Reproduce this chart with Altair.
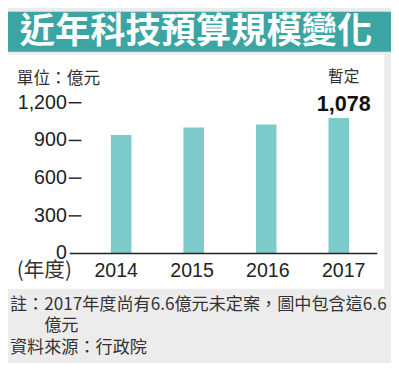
import altair as alt
import pandas as pd

# ---- data ----
years = [2014, 2015, 2016, 2017]
year_labels = ["2014", "2015", "2016", "2017"]
budget = [943, 1003, 1026, 1078]
tick_values = [0, 300, 600, 900, 1200]
tick_labels = ["0", "300", "600", "900", "1,200"]
title_text = ["近年科技預算規模變化"]
unit_text = ["單位：億元"]
year_axis_text = ["(年度)"]
provisional_text = ["暫定"]
highlight_label = ["1,078"]
note_lines = ["註：2017年度尚有6.6億元未定案，圖中包含這6.6", "億元"]
source_text = ["資料來源：行政院"]

W, H = 391, 355
CJK = "Noto Sans CJK TC"
NUM = "Liberation Sans"
TEAL = "#3aa5a3"
BAR = "#7ccaca"
GRAY = "#ececec"
INK = "#222222"

bars_df = pd.DataFrame({"year": years, "value": budget, "ylab": year_labels})
ticks_df = pd.DataFrame({"value": tick_values, "label": tick_labels})
dash_df = ticks_df[ticks_df["value"] > 0]
hl_df = pd.DataFrame({"year": [years[-1]], "value": [budget[-1]],
                      "lab": highlight_label, "prov": provisional_text})
one = pd.DataFrame({"k": [0]})

xs = alt.Scale(domain=[2014, 2017], range=[110.5, 342.7], zero=False, nice=False)
ys = alt.Scale(domain=[0, 1200], range=[247, 93], zero=True, nice=False)
X = alt.X("year:Q", scale=xs, axis=None)
Y = alt.Y("value:Q", scale=ys, axis=None)

panel = alt.Chart(one).mark_rect(color="white").encode(
    x=alt.value(0), x2=alt.value(384), y=alt.value(44), y2=alt.value(283))
band = alt.Chart(one).mark_rect(color=TEAL).encode(
    x=alt.value(0), x2=alt.value(W), y=alt.value(0), y2=alt.value(41))

title = alt.Chart(pd.DataFrame({"t": title_text})).mark_text(
    font=CJK, fontSize=36, fontWeight="bold", color="white", baseline="middle"
).encode(x=alt.value(192), y=alt.value(21), text="t:N")

unit = alt.Chart(pd.DataFrame({"t": unit_text})).mark_text(
    font=CJK, fontSize=17, color="#333333", align="left", baseline="middle"
).encode(x=alt.value(9), y=alt.value(69), text="t:N")

bars = alt.Chart(bars_df).mark_bar(size=21, color=BAR).encode(x=X, y=Y)

ylabels = alt.Chart(ticks_df).mark_text(
    font=NUM, fontSize=20, color=INK, align="right", baseline="middle"
).encode(x=alt.value(60), y=Y, text="label:N")

dashes = alt.Chart(dash_df).mark_rule(color=INK, strokeWidth=1.5).encode(
    x=alt.value(62), x2=alt.value(75), y=Y)

baseline = alt.Chart(ticks_df[ticks_df["value"] == 0]).mark_rule(
    color=INK, strokeWidth=1.5).encode(x=alt.value(63), x2=alt.value(377), y=Y)

xlabels = alt.Chart(bars_df).mark_text(
    font=NUM, fontSize=20, color=INK, baseline="middle"
).encode(x=X, y=alt.value(265), text="ylab:N")

yearlab = alt.Chart(pd.DataFrame({"t": year_axis_text})).mark_text(
    font=CJK, fontSize=21, color="#333333", align="left", baseline="middle"
).encode(x=alt.value(9), y=alt.value(265), text="t:N")

hl = alt.Chart(hl_df).mark_text(
    font=NUM, fontSize=22, fontWeight="bold", color="#111111", baseline="middle", dy=-14
).encode(x=X, y=Y, text="lab:N")

prov = alt.Chart(hl_df).mark_text(
    font=CJK, fontSize=16, color="#333333", baseline="middle", dy=-42
).encode(x=X, y=Y, text="prov:N")

notes_df = pd.DataFrame({
    "t": [note_lines[0], note_lines[1], source_text[0]],
    "px": [2, 37, 2],
    "py": [300, 321.5, 343],
})
notes = alt.Chart(notes_df).mark_text(
    font=CJK, fontSize=17.5, color="#333333", align="left", baseline="middle"
).encode(
    x=alt.X("px:Q", scale=None, axis=None),
    y=alt.Y("py:Q", scale=None, axis=None),
    text="t:N",
)

chart = alt.layer(panel, band, title, unit, bars, ylabels, dashes, baseline,
                  xlabels, yearlab, hl, prov, notes).resolve_scale(
    x="independent", y="independent"
).properties(
    width=W, height=H, padding=0,
    autosize=alt.AutoSizeParams(type="none"),
    background=GRAY,
).configure_view(stroke=None)

chart.save("out.html", embed_options={"renderer": "svg", "actions": False})
